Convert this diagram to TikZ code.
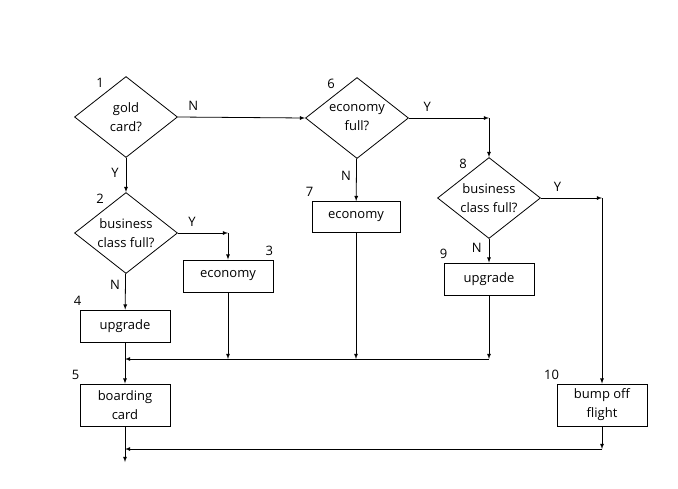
\documentclass[tikz,border=0pt]{standalone}
\usepackage{fontspec}
\setmainfont{Open Sans}
\usetikzlibrary{shapes.geometric,positioning}

\begin{document}
\begin{tikzpicture}[x=1pt, y=-1pt, >=latex, line width=0.8pt,
    every node/.style={font=\fontsize{13}{19}\selectfont},
    test/.style={draw, diamond, aspect=1.27, minimum width=103pt, minimum height=81pt, inner sep=-2pt, align=center},
    act/.style={draw, rectangle, minimum width=90pt, minimum height=32pt, align=center},
    num/.style={inner sep=1pt},
    yn/.style={inner sep=1pt}]
    \useasboundingbox (0,0) rectangle (678,488);
    % decisions
    \node[test] (d1) at (126,117) {gold\\card?};
    \node[test] (d2) at (126,233) {business\\class full?};
    \node[test] (d6) at (357,118) {economy\\full?};
    \node[test] (d8) at (489,198) {business\\class full?};
    % actions
    \node[act] (b3) at (228,276) {economy};
    \node[act] (b4) at (125,326) {upgrade};
    \node[act, minimum height=42pt] (b5) at (125,405) {boarding\\card};
    \node[act, minimum width=88pt, minimum height=31pt] (b7) at (356,217) {economy};
    \node[act] (b9) at (489,279) {upgrade};
    \node[act, minimum height=42pt] (b10) at (602,405) {bump off\\flight};
    % numbers
    \node[num, above=8pt of d1.north west] (n1) {1};
    \node[num, above=8pt of d2.north west] (n2) {2};
    \node[num, above=8pt of d6.north west] (n6) {6};
    \node[num, above=8pt of d8.north west] (n8) {8};
    \node[num, above=3pt of b3.north east, xshift=-4pt] (n3) {3};
    \node[num, above=3pt of b4.north west, xshift=-2pt] (n4) {4};
    \node[num, above=3pt of b5.north west, xshift=-4pt] (n5) {5};
    \node[num, above=3pt of b7.north west, xshift=-2pt] (n7) {7};
    \node[num, above=3pt of b9.north west] (n9) {9};
    \node[num, above=3pt of b10.north west, xshift=-5pt] (n10) {10};
    % corners
    \coordinate (c2) at (b3.north |- d2.east);
    \coordinate (c6) at (d8.north |- d6.east);
    \coordinate (c8) at (b10.north |- d8.east);
    \coordinate (m3) at (b3.south |- 0,359);
    \coordinate (m4) at (b4.south |- 0,359);
    \coordinate (m7) at (b7.south |- 0,359);
    \coordinate (m9) at (b9.south |- 0,359);
    \coordinate (e10) at (b10.south |- 0,449);
    \coordinate (e5) at (b5.south |- 0,449);
    \coordinate (out) at (b5.south |- 0,462);
    % flow
    \draw[->] (d1.east) -- node[yn, pos=0.12, above=5pt] {N} (d6.west);
    \draw[->] (d1) -- node[yn, pos=0.43, left=6pt] {Y} (d2);
    \draw[->] (d6.east) -- node[yn, pos=0.23, above=5pt] {Y} (c6);
    \draw[->] (c6) -- (d8.north);
    \draw[->] (d6) -- node[yn, pos=0.4, left=4pt] {N} (b7);
    \draw[->] (d8.east) -- node[yn, pos=0.27, above=5pt] {Y} (c8);
    \draw[->] (c8) -- (b10);
    \draw[->] (d8) -- node[yn, pos=0.37, left=6pt] {N} (b9);
    \draw[->] (d2.east) -- node[yn, pos=0.28, above=5pt] {Y} (c2);
    \draw[->] (c2) -- (b3);
    \draw[->] (d2) -- node[yn, pos=0.32, left=4pt] {N} (b4);
    \draw[->] (b4) -- (b5);
    \draw[->] (b3) -- (m3);
    \draw[->] (b7) -- (m7);
    \draw[->] (b9) -- (m9);
    \draw[->] (m9) -- (m4);
    \draw[->] (b10) -- (e10);
    \draw[->] (e10) -- (e5);
    \draw[->] (b5) -- (out);
\end{tikzpicture}
\end{document}
